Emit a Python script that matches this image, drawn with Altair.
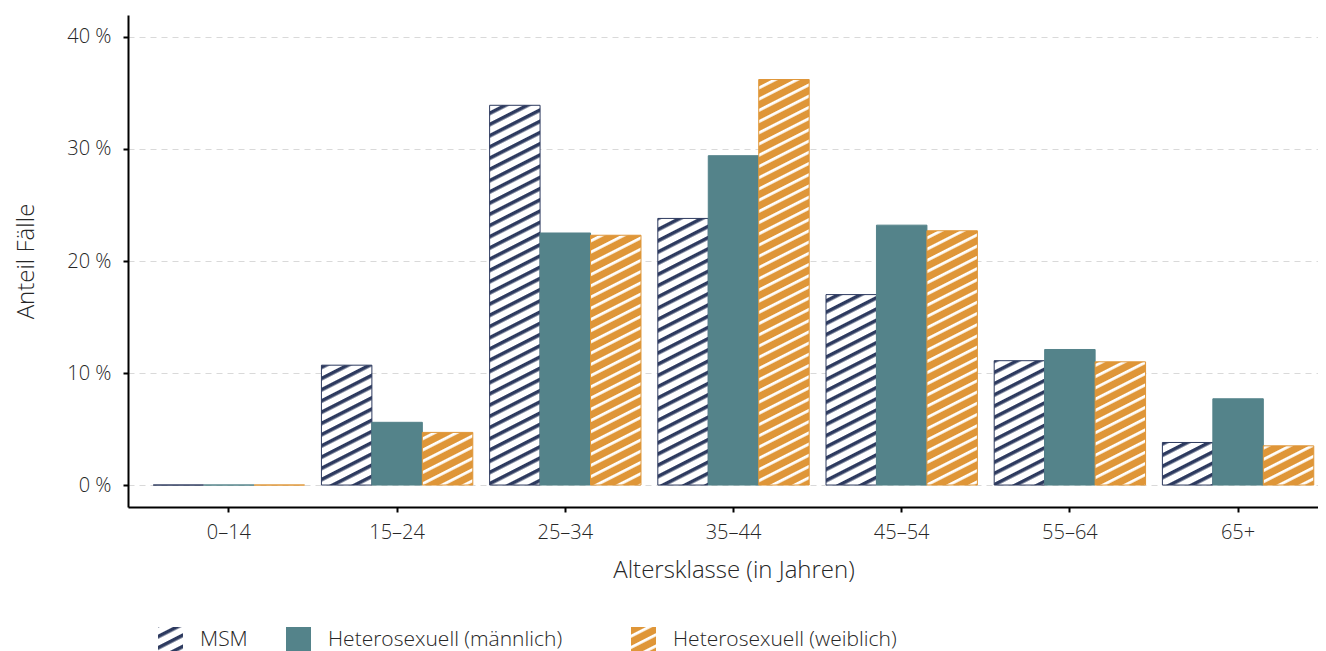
import altair as alt
import pandas as pd
import altair.utils.html as _ah

# ---------------- data ----------------
ages = ["0–14", "15–24", "25–34", "35–44", "45–54", "55–64", "65+"]
groups = ["MSM", "Heterosexuell (männlich)", "Heterosexuell (weiblich)"]
msm = [0.0, 10.7, 33.9, 23.8, 17.0, 11.1, 3.8]
het_m = [0.0, 5.6, 22.5, 29.4, 23.2, 12.1, 7.7]
het_w = [0.0, 4.7, 22.3, 36.2, 22.7, 11.0, 3.5]
y_ticks = [0, 10, 20, 30, 40]

NAVY = "#2d3a5f"
TEAL = "#54838a"
ORANGE = "#df9638"
TEXT = "#262626"

# hatch patterns, referenced by the bar fills (fallback colour after the url)
DEFS = (
    '<style>.vega-embed svg{flex-shrink:0 !important;max-width:none !important;}</style>'
    '<svg width="0" height="0" style="position:absolute;width:0;height:0;overflow:hidden" aria-hidden="true"><defs>'
    '<pattern id="hatchNavy" patternUnits="userSpaceOnUse" width="10" height="10" patternTransform="rotate(-27)">'
    '<rect width="10" height="10" fill="#ffffff"/><rect width="10" height="3.6" fill="' + NAVY + '"/></pattern>'
    '<pattern id="hatchOrange" patternUnits="userSpaceOnUse" width="10" height="10" patternTransform="rotate(-27)">'
    '<rect width="10" height="10" fill="' + ORANGE + '"/><rect width="10" height="2.8" fill="#ffffff"/></pattern>'
    '</defs></svg>'
)


class _PatternTemplate:
    def __init__(self, base):
        self.base = base

    def render(self, *args, **kwargs):
        html = self.base.render(*args, **kwargs)
        if "<body>" in html:
            return html.replace("<body>", "<body>\n" + DEFS, 1)
        return DEFS + html


try:
    _ah.TEMPLATES["standard"] = _PatternTemplate(_ah.TEMPLATES["standard"])
except Exception:
    pass

rows = []
for i, a in enumerate(ages):
    rows.append({"Altersklasse": a, "Gruppe": groups[0], "Anteil": msm[i]})
    rows.append({"Altersklasse": a, "Gruppe": groups[1], "Anteil": het_m[i]})
    rows.append({"Altersklasse": a, "Gruppe": groups[2], "Anteil": het_w[i]})
df = pd.DataFrame(rows)

fills = ["url(#hatchNavy) " + NAVY, TEAL, "url(#hatchOrange) " + ORANGE]
strokes = [NAVY, TEAL, ORANGE]

FONT = "Open Sans"
GAP = "\u2800" * 2  # blank glyphs widening the second legend entry

bars = alt.Chart(df).mark_bar(strokeWidth=1).encode(
    x=alt.X(
        "Altersklasse:N",
        sort=ages,
        scale=alt.Scale(paddingInner=0.1, paddingOuter=0.15),
        axis=alt.Axis(
            title="Altersklasse (in Jahren)",
            labelAngle=0,
            grid=False,
            labelPadding=10,
            titlePadding=16,
        ),
    ),
    xOffset=alt.XOffset(
        "Gruppe:N", sort=groups, scale=alt.Scale(domain=groups, paddingInner=0, paddingOuter=0)
    ),
    y=alt.Y(
        "Anteil:Q",
        scale=alt.Scale(domain=[-1.96, 41.96], nice=False, zero=False),
        axis=alt.Axis(
            title="Anteil Fälle",
            values=y_ticks,
            labelExpr="datum.value + ' %'",
            grid=True,
            gridDash=[6, 5],
            gridColor="#d9d9d9",
            gridWidth=1,
            labelPadding=12,
            titlePadding=28,
        ),
    ),
    y2=alt.datum(0),
    fill=alt.Fill(
        "Gruppe:N",
        sort=groups,
        scale=alt.Scale(domain=groups, range=fills),
        legend=alt.Legend(
            title=None,
            orient="none",
            direction="horizontal",
            legendX=30,
            legendY=612,
            symbolType="square",
            symbolSize=625,
            symbolStrokeWidth=0,
            labelFontSize=21,
            labelFont=FONT,
            labelFontWeight=300,
            labelColor=TEXT,
            labelOffset=17,
            labelExpr="datum.label == 'Heterosexuell (männlich)' ? datum.label + '" + GAP + "' : datum.label",
            columnPadding=38,
            padding=0,
            labelLimit=500,
        ),
    ),
    stroke=alt.Stroke(
        "Gruppe:N", sort=groups, scale=alt.Scale(domain=groups, range=strokes), legend=None
    ),
)

chart = (
    bars.properties(
        width=1211,
        height=492,
        padding={"left": 6, "top": 7, "right": 0, "bottom": 0},
    )
    .configure_view(stroke=None)
    .configure_axis(
        domainColor="#000000",
        domainWidth=2,
        tickColor="#000000",
        tickWidth=2,
        tickSize=5,
        labelFont=FONT,
        labelFontSize=20,
        labelFontWeight=300,
        labelColor=TEXT,
        titleFont=FONT,
        titleFontSize=24,
        titleFontWeight=300,
        titleColor=TEXT,
    )
)

chart.save("out.html", embed_options={"renderer": "svg", "actions": False})
